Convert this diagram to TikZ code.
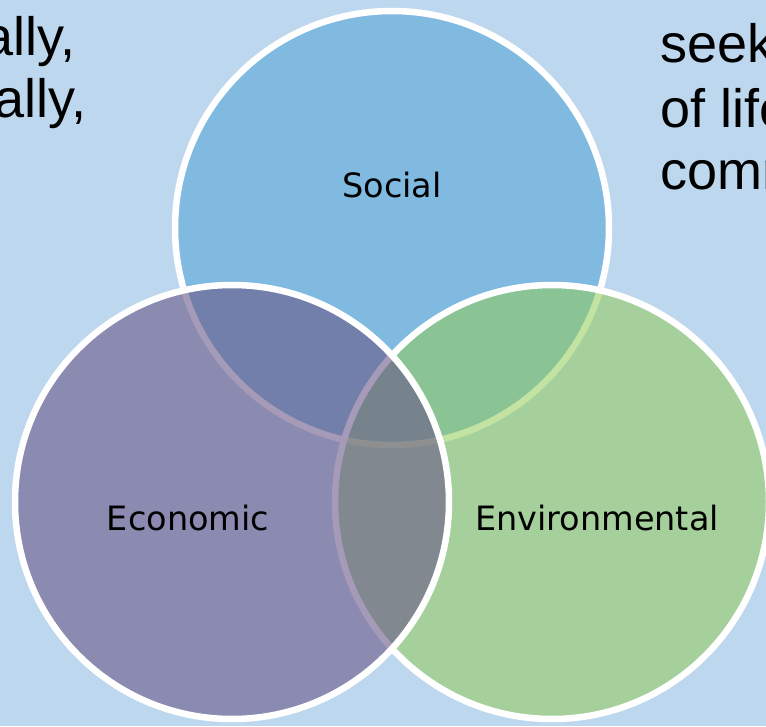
\documentclass[tikz,border=0pt]{standalone}
\usepackage{fontspec}
\setmainfont{Liberation Sans}
\newfontfamily\vennfont{DejaVu Sans}
\usetikzlibrary{positioning}

\definecolor{bgblue}{RGB}{189,215,238}
\definecolor{socblue}{RGB}{128,186,224}
\definecolor{ecopurple}{RGB}{106,88,135}
\definecolor{envgreen}{RGB}{147,204,87}

\begin{document}
\begin{tikzpicture}[x=1pt,y=-1pt]
\tikzset{pillar/.style = {shape=circle,draw=white,line width=6.5pt,minimum size=434pt,inner sep=0pt,text opacity=1}}
\tikzset{pillarname/.style = {font=\vennfont\fontsize{33.5}{40}\selectfont,anchor=base,inner sep=0pt}}
\tikzset{sidetext/.style = {font=\fontsize{54}{62}\selectfont,inner sep=0pt}}

\fill[bgblue] (0,0) rectangle (766,726);
\useasboundingbox (0,0) rectangle (766,726);
\clip (0,0) rectangle (766,726);

%text behind the diagram
\node[sidetext,anchor=base east] (left1) at (76,55) {ally,};
\node[sidetext,anchor=base east] (left2) at (87,117) {ally,};
\node[sidetext,anchor=base west] (right1) at (660,62) {seek};
\node[sidetext,anchor=base west] (right2) at (660,127) {of life};
\node[sidetext,anchor=base west] (right3) at (660,189) {comm};

%circles
\node[pillar,fill=socblue] (social) at (392,228) {};
\node[pillar,fill=envgreen,fill opacity=.55] (environmental) at (552,502) {};
\node[pillar,fill=ecopurple,fill opacity=.6] (economic) at (232,502) {};

%labels
\node[pillarname] (socialname) at (392,197) {Social};
\node[pillarname] (economicname) at (188,530) {Economic};
\node[pillarname] (environmentalname) at (597,530) {Environmental};

\end{tikzpicture}
\end{document}
